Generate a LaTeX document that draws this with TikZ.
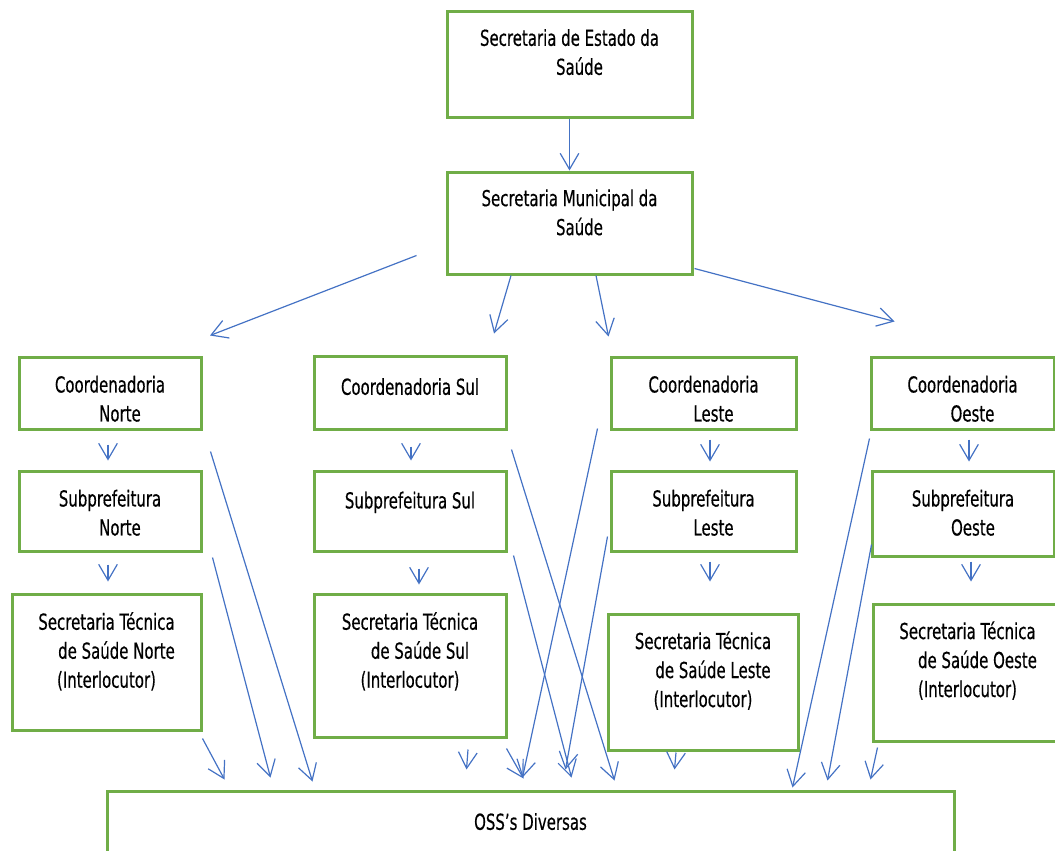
\documentclass[tikz,border=0pt]{standalone}
\usepackage{fontspec}
\setmainfont{DejaVu Sans}[FakeStretch=0.68, FakeBold=0.4]
\usetikzlibrary{arrows.meta}
\usetikzlibrary{positioning}
\definecolor{boxgreen}{HTML}{70AD47}
\definecolor{linkblue}{HTML}{4472C4}
\newcommand{\tstrut}{\rule{0pt}{14pt}}
\newcommand{\boxfont}{\fontsize{16.5pt}{21.75pt}\selectfont}
\tikzset{
  org box/.style 2 args={
    draw=boxgreen,
    line width=2.25pt,
    minimum width=#1*0.75pt,
    minimum height=#2*0.75pt,
    inner sep=0pt,
  }
}
\tikzset{
  box text/.style={
    font=\boxfont,
    align=center,
    inner sep=0pt,
    execute at begin node={\tstrut},
  }
}
\tikzset{
  link/.style={draw=linkblue, line width=0.9pt, ->}
}

\begin{document}
\begin{tikzpicture}[
    x=0.75pt, y=-0.75pt,
    >={Straight Barb[length=12pt,width=14pt]},
    ]
  \clip (0,0) rectangle (1055,850);

  % state and city
  \node[org box={245}{106}] (ses) at (569.5,64) {};
  \node[box text, below=14.5pt of ses.north] (ses-t)
    {Secretaria de Estado da\\\hspace*{15pt}Saúde};
  \node[org box={245}{102}] (sms) at (569.5,223) {};
  \node[box text, below=14pt of sms.north] (sms-t)
    {Secretaria Municipal da\\\hspace*{15pt}Saúde};

  % Norte
  \node[org box={182}{72}] (cn) at (110,393) {};
  \node[box text, below=15pt of cn.north] (cn-t)
    {Coordenadoria\\\hspace*{15pt}Norte};
  \node[org box={182}{80}] (sn) at (110,511) {};
  \node[box text, below=15pt of sn.north] (sn-t)
    {Subprefeitura\\\hspace*{15pt}Norte};
  \node[org box={189}{136}] (tn) at (106.5,662) {};
  \node[box text, below=14.5pt of tn.north] (tn-t)
    {Secretaria Técnica\\\hspace*{15pt}de Saúde Norte\\(Interlocutor)};

  % Sul
  \node[org box={192}{73}] (cs) at (410,392.5) {};
  \node[box text, below=16pt of cs.north] (cs-t) {Coordenadoria Sul};
  \node[org box={192}{80}] (ss) at (410,511) {};
  \node[box text, below=15pt of ss.north] (ss-t) {Subprefeitura Sul};
  \node[org box={192}{143}] (ts) at (410,665.5) {};
  \node[box text, below=14.5pt of ts.north] (ts-t)
    {Secretaria Técnica\\\hspace*{15pt}de Saúde Sul\\(Interlocutor)};

  % Leste
  \node[org box={185}{72}] (cl) at (703.5,393) {};
  \node[box text, below=15pt of cl.north] (cl-t)
    {Coordenadoria\\\hspace*{15pt}Leste};
  \node[org box={185}{80}] (sl) at (703.5,511) {};
  \node[box text, below=15pt of sl.north] (sl-t)
    {Subprefeitura\\\hspace*{15pt}Leste};
  \node[org box={190}{136}] (tl) at (703,682) {};
  \node[box text, below=14pt of tl.north] (tl-t)
    {Secretaria Técnica\\\hspace*{15pt}de Saúde Leste\\(Interlocutor)};

  % Oeste
  \node[org box={183}{72}] (co) at (962.5,393) {};
  \node[box text, below=15pt of co.north] (co-t)
    {Coordenadoria\\\hspace*{15pt}Oeste};
  \node[org box={182}{85}] (so) at (963,513.5) {};
  \node[box text, below=15pt of so.north] (so-t)
    {Subprefeitura\\\hspace*{15pt}Oeste};
  \node[org box={189}{137}] (to) at (967.5,672.5) {};
  \node[box text, below=14pt of to.north] (to-t)
    {Secretaria Técnica\\\hspace*{15pt}de Saúde Oeste\\(Interlocutor)};

  % bottom
  \node[org box={847}{78}] (oss) at (530.5,830) {};
  \node[box text, below=16pt of oss.north] (oss-t) {OSS’s Diversas};

  % links from the top
  \draw[link] (ses) -- (sms);
  \draw[link] ([shift={(-29,-20)}]sms.south west) -- ([shift={(100,-20)}]cn.north);
  \draw[link] ([shift={(-58.5,0)}]sms.south) -- ([shift={(84,-21)}]cs.north);
  \draw[link] ([shift={(26.5,0)}]sms.south) -- ([shift={(-1,-19)}]cl.north west);
  \draw[link] ([shift={(1,-7)}]sms.south east) -- ([shift={(25,-34)}]co.north west);

  % links down each column
  \foreach \a/\b/\sx/\sy/\ex/\ey in {
      cn/sn/-2/14/-2/-9, sn/tn/-2/12/1.5/-11,
      cs/ss/1/16/1/-9, ss/ts/9/16/9/-8,
      cl/sl/6.5/9/6.5/-8, sl/tl/6.5/9/7/-31,
      co/so/6.5/9/6/-8, so/to/8/4/3.5/-21}{
    \draw[link] ([shift={(\sx,\sy)}]\a.south) -- ([shift={(\ex,\ey)}]\b.north);
  }

  % links to the OSS's
  \foreach \a/\an/\sx/\sy/\ex/\ey in {
      cn/south east/8/21/207/-8,
      sn/south east/10/5/165/-12,
      tn/south east/0/7/119/-10,
      cs/south east/4/19/509/-9,
      ss/south east/6/3/466/-12,
      ts/south east/-1/10/418/-11,
      ts/south/58/11/361/-20,
      cl/south west/-12/-2/417/-12,
      sl/south west/-2/-16/460/-20,
      tl/south/-27/1/569/-20,
      co/south west/0/8/687/-2,
      so/south west/1/-13/722/-9,
      to/south west/6/5/765/-10}{
    \draw[link] ([shift={(\sx,\sy)}]\a.\an) -- ([shift={(\ex,\ey)}]oss.north west);
  }
\end{tikzpicture}
\end{document}
